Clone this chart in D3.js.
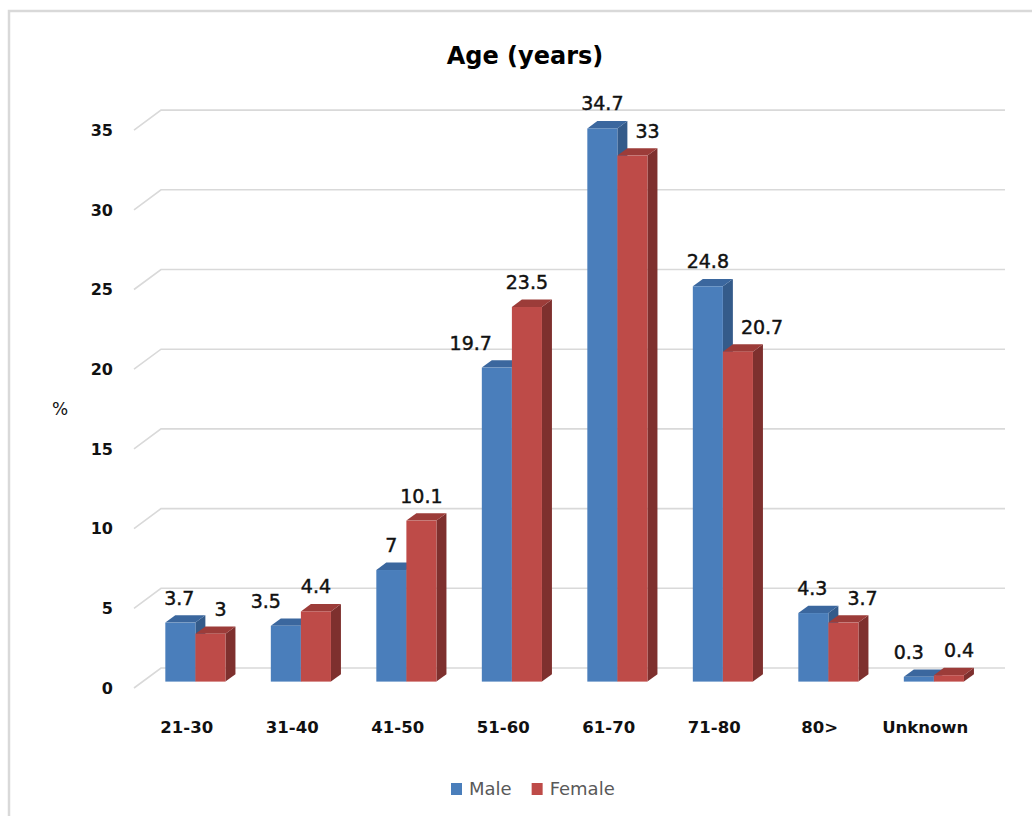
<!DOCTYPE html>
<html>
<head>
<meta charset="utf-8">
<script src="https://cdn.jsdelivr.net/npm/d3@7/dist/d3.min.js"></script>
<style>
  html, body { margin: 0; padding: 0; background: #ffffff; }
  svg { display: block; font-family: "DejaVu Sans", Verdana, sans-serif; }
</style>
</head>
<body>
<svg id="chart" width="1032" height="816"></svg>
<script>
// Age distribution (%) by sex
const categories = ["21-30", "31-40", "41-50", "51-60", "61-70", "71-80", "80>", "Unknown"];
const seriesNames = ["Male", "Female"];
const maleValues = [3.7, 3.5, 7, 19.7, 34.7, 24.8, 4.3, 0.3];
const femaleValues = [3, 4.4, 10.1, 23.5, 33, 20.7, 3.7, 0.4];
const yTicks = [0, 5, 10, 15, 20, 25, 30, 35];
const titleText = "Age (years)";
const yAxisTitle = "%";

const colors = {
  Male:   { front: "#4A7EBB", top: "#3B679E", side: "#345B8A" },
  Female: { front: "#BE4B48", top: "#9C3C39", side: "#7E302E" }
};

const svg = d3.select("#chart");

// Oblique projection: depth t in [0,1] moves a point up and to the right
const DEPTH_DX = 27, DEPTH_DY = -20;
const BAR_T0 = 0.32;     // depth of the bar front faces
const BAR_T = 0.37;      // depth extent of each bar
const proj = (x, y, t) => [x + DEPTH_DX * t, y + DEPTH_DY * t];

// Scales (front plane)
const y = d3.scaleLinear().domain([0, 35]).range([688, 688 - 15.94 * 35]);
const xCat = d3.scaleBand().domain(categories).range([134, 978]).padding(0);
const groupW = xCat.step() * 0.57;
const xSer = d3.scaleBand().domain(seriesNames).range([-groupW / 2, groupW / 2]).padding(0);

// Outer frame (top and left edges)
svg.append("path")
  .attr("d", "M9,816 L9,11 L1032,11")
  .attr("fill", "none").attr("stroke", "#D9D9D9").attr("stroke-width", 2.5);

// Title
svg.append("text")
  .attr("x", 525).attr("y", 64)
  .attr("text-anchor", "middle")
  .attr("font-size", 24).attr("font-weight", "bold").attr("fill", "#000")
  .text(titleText);

// Gridlines: side wall diagonal + back wall line
const xLeft = xCat.range()[0];
const xRightBack = 1005;
svg.append("g").selectAll("path").data(yTicks).join("path")
  .attr("d", v => {
    const f = [xLeft, y(v)];
    const b = proj(xLeft, y(v), 1);
    return `M${f[0]},${f[1]} L${b[0]},${b[1]} L${xRightBack},${b[1]}`;
  })
  .attr("fill", "none").attr("stroke", "#D9D9D9").attr("stroke-width", 1.6);

// Y tick labels
svg.append("g").selectAll("text").data(yTicks).join("text")
  .attr("x", 113).attr("y", v => y(v))
  .attr("dy", "0.36em")
  .attr("text-anchor", "end")
  .attr("font-size", 16).attr("font-weight", "bold").attr("fill", "#111")
  .text(v => v);

svg.append("text")
  .attr("x", 60).attr("y", 415)
  .attr("text-anchor", "middle")
  .attr("font-size", 17).attr("fill", "#111")
  .text(yAxisTitle);

// Category labels along the front floor edge
svg.append("g").selectAll("text").data(categories).join("text")
  .attr("x", c => xCat(c) + xCat.bandwidth() / 2)
  .attr("y", 733)
  .attr("text-anchor", "middle")
  .attr("font-size", 16.5).attr("font-weight", "bold").attr("fill", "#111")
  .text(c => c);

// Bar records
const seriesValues = { Male: maleValues, Female: femaleValues };
const bars = [];
categories.forEach((c, i) => {
  seriesNames.forEach(s => {
    const v = seriesValues[s][i];
    const fx0 = xCat(c) + xCat.bandwidth() / 2 + xSer(s);
    const [x0, yB] = proj(fx0, y(0), BAR_T0);
    const [, yT] = proj(fx0, y(v), BAR_T0);
    bars.push({ c, i, s, v, x0, x1: x0 + xSer.bandwidth(), yT, yB });
  });
});

const ddx = DEPTH_DX * BAR_T, ddy = DEPTH_DY * BAR_T;
const barG = svg.append("g");
bars.forEach(b => {
  const g = barG.append("g");
  const col = colors[b.s];
  // side face
  g.append("path")
    .attr("d", `M${b.x1},${b.yT} L${b.x1 + ddx},${b.yT + ddy} L${b.x1 + ddx},${b.yB + ddy} L${b.x1},${b.yB} Z`)
    .attr("fill", col.side);
  // top face
  g.append("path")
    .attr("d", `M${b.x0},${b.yT} L${b.x1},${b.yT} L${b.x1 + ddx},${b.yT + ddy} L${b.x0 + ddx},${b.yT + ddy} Z`)
    .attr("fill", col.top);
  // front face
  g.append("rect")
    .attr("x", b.x0).attr("y", b.yT)
    .attr("width", b.x1 - b.x0).attr("height", Math.max(0, b.yB - b.yT))
    .attr("fill", col.front);
});

// Value labels; a label that would collide with the taller bar of its pair is moved aside
const labelG = svg.append("g");
const GAP_LEFT = 20, GAP_RIGHT = 8, LABEL_GAP = 20;
const labels = bars.map(b => {
  const t = labelG.append("text")
    .attr("font-size", 19).attr("fill", "#111")
    .attr("stroke", "#111").attr("stroke-width", 0.45)
    .attr("text-anchor", "middle")
    .text(b.v);
  const w = t.node().getComputedTextLength();
  let cx = (b.x0 + b.x1) / 2;
  const base = b.yT - 18;
  const other = bars.find(o => o.i === b.i && o.s !== b.s);
  if (other && other.v > b.v) {
    const otherTop = other.yT + ddy;
    const vOverlap = base + 4 > otherTop;
    if (other.x0 > b.x0) {
      if (vOverlap && cx + w / 2 + 2 > other.x0) cx = other.x0 - GAP_LEFT - w / 2;
    } else {
      const edge = other.x1 + ddx;
      if (vOverlap && cx - w / 2 - 2 < edge) cx = edge + GAP_RIGHT + w / 2;
    }
  }
  return { b, t, w, cx, base };
});

// Spread apart the two labels of a pair when they run into each other
categories.forEach((c, i) => {
  const [a, bLab] = labels.filter(l => l.b.i === i).sort((p, q) => p.cx - q.cx);
  if (!a || !bLab) return;
  const vClash = Math.abs(a.base - bLab.base) < 16;
  const gap = (bLab.cx - bLab.w / 2) - (a.cx + a.w / 2);
  if (vClash && gap < LABEL_GAP) {
    const push = (LABEL_GAP - gap) / 2;
    a.cx -= push;
    bLab.cx += push;
  }
});

labels.forEach(l => l.t.attr("x", l.cx).attr("y", l.base));

// Legend
const legend = svg.append("g");
let lx = 451;
seriesNames.forEach(s => {
  legend.append("rect")
    .attr("x", lx).attr("y", 783).attr("width", 11).attr("height", 12)
    .attr("fill", colors[s].front);
  const t = legend.append("text")
    .attr("x", lx + 18).attr("y", 795)
    .attr("font-size", 18).attr("fill", "#595959")
    .text(s);
  lx += 18 + t.node().getComputedTextLength() + 20;
});
</script>
</body>
</html>
